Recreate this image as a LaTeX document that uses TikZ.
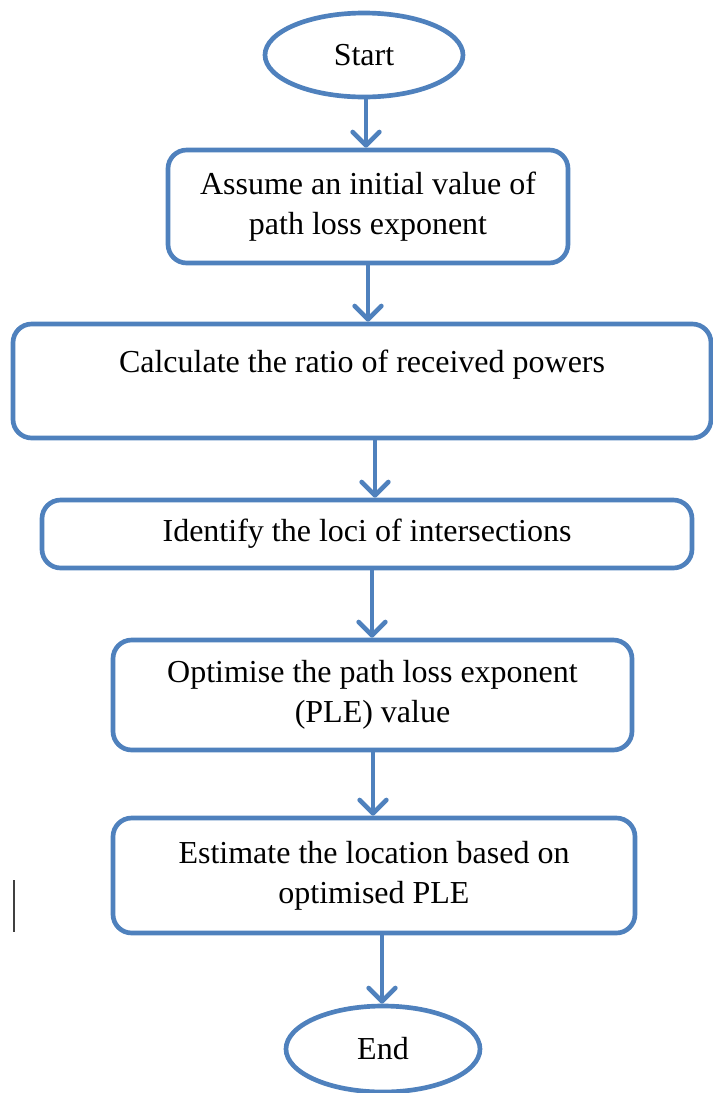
\documentclass[tikz,border=0pt]{standalone}
\usepackage{fontspec}
\setmainfont{Liberation Serif}
\usetikzlibrary{arrows.meta,shapes.geometric}
\definecolor{flowblue}{RGB}{79,129,189}
\begin{document}
\begin{tikzpicture}[x=0.75pt,y=-0.75pt,
  every node/.style={font=\fontsize{24}{30}\selectfont, text=black},
  procbox/.style={draw=flowblue, line width=3.5pt, rounded corners=14pt, fill=white, align=center, inner sep=0pt},
  termnode/.style={draw=flowblue, line width=3.5pt, ellipse, fill=white, inner sep=0pt},
  arr/.style={draw=flowblue, line width=3.5pt, line cap=round,
    -{Straight Barb[length=10pt,width=20pt,line cap=round,line join=round]}}]
\useasboundingbox (0,0) rectangle (713,1093);
% terminals
\node[termnode, minimum width=198*0.75pt, minimum height=84*0.75pt] (start) at (364,55) {Start};
\node[termnode, minimum width=194*0.75pt, minimum height=86*0.75pt] (end) at (383,1049) {End};
% process boxes
\node[procbox, minimum width=400*0.75pt, minimum height=113*0.75pt] (b1) at (368,206.5) {Assume an initial value of\\path loss exponent};
\node[procbox, minimum width=698*0.75pt, minimum height=114*0.75pt] (b2) at (362,381) {Calculate the ratio of received powers\\~};
\node[procbox, minimum width=650*0.75pt, minimum height=68*0.75pt] (b3) at (367,534) {Identify the loci of intersections};
\node[procbox, minimum width=519*0.75pt, minimum height=110*0.75pt] (b4) at (372.5,695) {Optimise the path loss exponent\\(PLE) value};
\node[procbox, minimum width=522*0.75pt, minimum height=115*0.75pt] (b5) at (374,875.5) {Estimate the location based on\\optimised PLE};
% connectors
\draw[arr] (start.south -| 366,0) -- (b1.north -| 366,0);
\draw[arr] (b1.south -| 368,0) -- (b2.north -| 368,0);
\draw[arr] (b2.south -| 375,0) -- (b3.north -| 375,0);
\draw[arr] (b3.south -| 372,0) -- (b4.north -| 372,0);
\draw[arr] (b4.south -| 373,0) -- (b5.north -| 373,0);
\draw[arr] (b5.south -| 382,0) -- (end.north -| 382,0);
% stray text cursor mark
\coordinate (cur1) at (14,880);
\coordinate (cur2) at (14,932);
\draw[line width=1.2pt, black!75] (cur1) -- (cur2);
\end{tikzpicture}
\end{document}
